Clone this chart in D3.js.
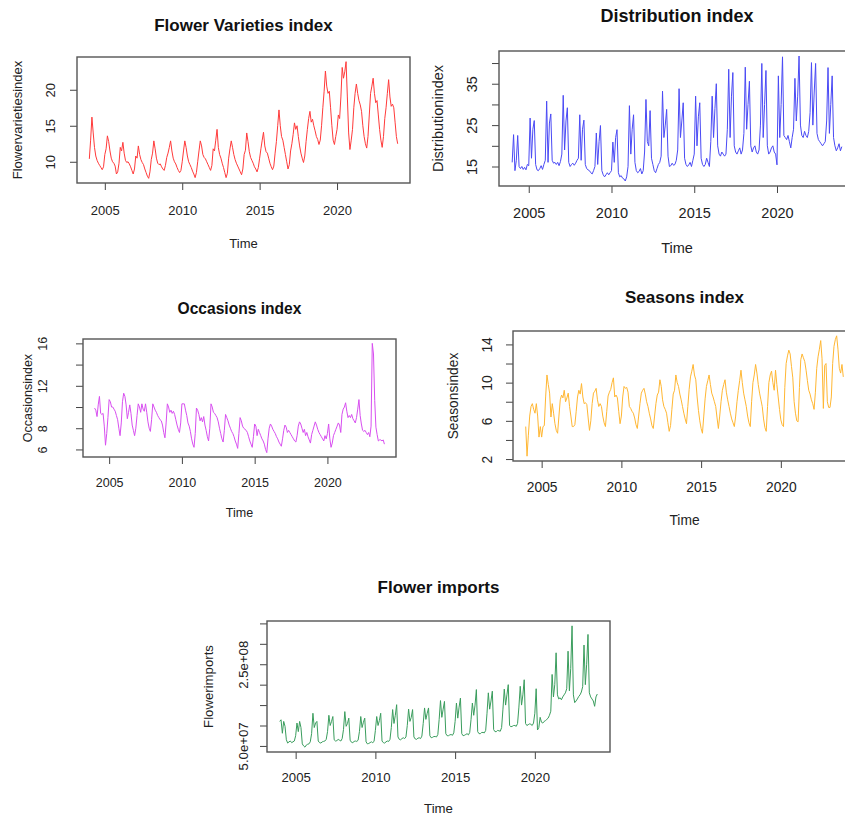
<!DOCTYPE html>
<html>
<head>
<meta charset="utf-8">
<script src="https://cdn.jsdelivr.net/npm/d3@7/dist/d3.min.js"></script>
<style>
  body { margin: 0; background: #fff; }
  svg { display: block; font-family: 'Liberation Sans', Arial, sans-serif; }
</style>
</head>
<body>
<div id="chart"></div>
<script>
// ---
// Data: monthly series, Jan 2004 - Dec 2023 (one row per year)
// ---
const startYear = 2004
const xTickYears = [2005, 2010, 2015, 2020]

const varietiesIndex = [
  10.4, 13.0, 16.2, 14.0, 12.0, 10.8, 10.2, 9.8, 9.5, 9.2, 8.9, 9.3,
  11.0, 11.8, 13.6, 12.8, 11.5, 10.5, 10.0, 9.8, 9.4, 8.3, 8.6, 9.8,
  12.0, 11.5, 12.7, 11.2, 10.2, 9.9, 10.0, 9.7, 9.3, 8.8, 8.3, 9.0,
  10.8, 10.5, 12.2, 11.0, 10.3, 9.9, 9.6, 9.0, 8.5, 8.0, 7.7, 8.6,
  10.3, 11.2, 12.9, 11.8, 10.5, 9.8, 9.6, 9.7, 9.3, 9.0, 8.8, 9.5,
  10.6, 11.2, 12.0, 12.9, 11.5, 10.5, 10.0, 9.7, 9.2, 8.8, 8.5, 8.8,
  10.0, 11.5, 12.9, 12.0, 10.8, 10.0, 9.6, 9.2, 8.7, 8.3, 7.8, 8.5,
  10.0, 11.5, 12.9, 12.2, 11.0, 10.6, 10.4, 10.0, 9.6, 9.2, 8.8, 9.5,
  11.8, 11.5, 13.0, 14.5, 12.0, 11.0, 10.5, 9.8, 9.2, 8.5, 7.8, 8.4,
  10.5, 11.8, 12.9, 12.0, 11.0, 10.3, 9.8, 9.4, 9.0, 8.6, 8.2, 9.0,
  11.0, 11.6, 14.0, 12.8, 11.4, 10.6, 10.2, 9.8, 9.3, 9.0, 8.6, 9.2,
  10.5, 11.8, 13.0, 14.1, 12.2, 11.4, 11.2, 10.5, 9.8, 9.3, 8.9, 9.4,
  11.2, 12.8, 15.0, 17.2, 15.0, 13.5, 13.0, 12.0, 11.0, 10.0, 9.0, 9.6,
  11.5, 12.5, 13.8, 15.4, 14.5, 15.0, 13.5, 12.2, 11.2, 10.5, 9.9, 10.8,
  12.8, 14.5, 16.0, 17.0, 15.5, 15.9, 15.0, 14.3, 13.5, 13.1, 12.4, 13.0,
  15.0, 17.5, 19.8, 22.6, 20.5, 19.5, 19.8, 17.5, 15.0, 13.0, 12.4, 13.5,
  14.5, 16.5, 16.0, 19.0, 23.1, 21.6, 22.5, 23.9, 19.0, 14.0, 11.7, 13.0,
  14.5, 17.5, 19.5, 20.8, 19.5, 18.5, 17.9, 17.0, 15.0, 13.5, 12.5, 11.9,
  13.5, 16.5, 19.5, 20.5, 21.6, 19.5, 18.2, 18.5, 16.5, 14.5, 13.0, 12.0,
  13.5, 16.0, 17.5, 19.5, 21.4, 19.0, 17.7, 18.0, 17.5, 15.5, 13.5, 12.5
]

const distributionIndex = [
  16.0, 22.7, 14.0, 16.5, 22.5, 15.0, 14.5, 15.0, 14.3, 14.8, 14.2, 15.5,
  15.2, 26.7, 17.0, 24.0, 26.1, 15.5, 14.2, 14.0, 14.5, 15.2, 14.3, 15.5,
  16.5, 30.8, 16.0, 25.5, 27.7, 16.5, 15.8, 16.0, 15.5, 16.0, 15.2, 16.2,
  18.0, 32.2, 19.0, 26.0, 29.2, 16.0, 15.0, 15.5, 15.8, 15.3, 15.8, 16.5,
  17.0, 27.5, 16.5, 24.0, 26.2, 15.5, 14.5, 14.2, 14.0, 13.5, 13.2, 14.0,
  15.0, 23.1, 15.5, 21.0, 24.9, 14.0, 13.0, 12.5, 13.0, 13.5, 13.0, 13.5,
  14.0, 20.9, 16.0, 22.0, 23.9, 13.5, 12.5, 12.8, 12.2, 12.0, 11.5, 12.5,
  15.0, 29.7, 18.0, 24.0, 27.5, 16.0, 14.0, 13.5, 13.8, 14.5, 13.2, 14.0,
  18.5, 31.2, 21.0, 20.0, 28.5, 17.0, 15.5, 14.0, 13.5, 14.5, 15.5, 16.0,
  17.5, 33.2, 22.0, 25.0, 28.8, 17.5, 15.0, 15.2, 15.8, 15.3, 15.5, 16.5,
  19.0, 33.8, 22.0, 26.0, 30.4, 17.0, 15.5, 15.0, 15.4, 16.0, 15.0, 16.5,
  18.0, 32.0, 20.0, 27.0, 30.4, 17.0, 15.5, 15.0, 15.5, 17.0, 16.0, 15.0,
  21.0, 32.0, 22.0, 29.0, 35.0, 20.0, 18.0, 17.5, 18.5, 18.0, 17.5, 18.0,
  24.0, 38.5, 22.0, 32.0, 37.7, 20.0, 18.5, 18.0, 18.8, 19.5, 18.0, 19.0,
  23.0, 39.0, 24.0, 30.0, 35.6, 20.0, 18.5, 19.5, 20.0, 18.5, 18.0, 19.0,
  25.0, 39.9, 22.0, 30.0, 38.2, 20.0, 18.0, 18.5, 19.5, 20.0, 18.5, 18.0,
  15.4, 36.9, 22.0, 30.0, 41.5, 22.5, 22.0, 21.5, 22.5, 21.0, 19.5, 22.0,
  24.0, 36.3, 26.0, 32.0, 41.7, 25.0, 22.5, 22.0, 23.5, 22.5, 22.0, 23.5,
  28.0, 40.1, 25.0, 33.0, 39.9, 23.0, 21.5, 21.0, 20.5, 20.0, 20.5, 21.0,
  26.0, 38.9, 23.0, 30.0, 36.9, 22.0, 20.0, 18.8, 19.5, 20.5, 18.8, 19.8
]

const occasionsIndex = [
  9.9, 9.7, 9.1, 10.2, 11.0, 9.4, 9.3, 9.4, 8.2, 6.4, 7.5, 9.0,
  10.7, 10.5, 10.0, 10.0, 9.8, 9.6, 9.2, 8.8, 8.0, 7.3, 8.5, 10.5,
  11.3, 11.0, 10.2, 8.9, 9.5, 10.2, 9.4, 8.3, 7.8, 7.3, 8.0, 9.2,
  10.3, 10.0, 9.5, 10.3, 9.8, 9.6, 10.3, 9.5, 8.6, 8.0, 7.7, 8.8,
  10.3, 10.0, 9.7, 9.5, 9.2, 9.0, 8.8, 8.7, 8.3, 7.6, 7.1, 8.5,
  10.3, 10.0, 9.5, 9.7, 9.4, 9.6, 9.3, 8.8, 8.3, 7.9, 7.6, 8.5,
  10.3, 10.3, 10.3, 9.7, 9.2, 8.5, 8.2, 7.7, 7.0, 6.5, 6.2, 7.5,
  9.9, 9.7, 9.3, 8.7, 9.0, 8.6, 9.1, 8.3, 7.8, 7.2, 6.8, 8.0,
  10.3, 10.0, 9.5, 9.4, 9.2, 9.0, 8.6, 8.0, 7.5, 7.0, 6.7, 7.8,
  9.3, 9.0, 8.7, 8.3, 8.0, 7.7, 7.5, 7.2, 6.8, 6.5, 6.1, 7.5,
  9.0, 8.7, 8.2, 8.0, 7.9, 7.8, 7.6, 7.2, 6.8, 6.5, 6.2, 7.2,
  8.4, 8.2, 7.3, 7.9, 7.6, 7.3, 7.0, 6.8, 6.5, 6.0, 5.7, 7.0,
  8.0, 8.4, 8.2, 7.9, 7.7, 7.5, 7.2, 7.0, 6.7, 6.5, 6.3, 7.0,
  7.8, 8.3, 8.1, 7.6, 7.8, 7.6, 7.4, 7.2, 7.0, 6.8, 6.7, 7.3,
  8.2, 8.6, 8.4, 8.0, 7.6, 7.9, 7.3, 7.6, 7.2, 6.9, 6.6, 7.4,
  7.8, 8.2, 8.6, 8.3, 7.9, 7.6, 7.4, 7.2, 7.0, 6.8, 7.3, 7.0,
  7.5, 8.4, 7.0, 6.2, 6.6, 7.3, 7.6, 7.9, 8.2, 8.5, 8.3, 7.6,
  9.3, 9.8, 10.0, 10.4, 9.6, 9.0, 9.2, 9.0, 9.3, 8.9, 8.7, 8.5,
  9.0, 9.8, 10.7, 9.2, 8.4, 7.8, 7.7, 7.8, 7.6, 7.4, 7.6, 7.2,
  8.2, 16.0, 15.0, 10.6, 8.1, 7.4, 6.8, 6.9, 6.9, 6.8, 6.9, 6.5
]

const seasonsIndex = [
  5.4, 2.3, 4.5, 6.5, 7.5, 7.8, 7.2, 6.8, 7.8, 6.5, 4.3, 5.4,
  4.3, 5.4, 5.5, 8.5, 10.8, 9.8, 8.9, 6.4, 7.8, 6.8, 5.7, 5.0,
  4.7, 6.5, 8.2, 8.7, 8.4, 9.2, 8.0, 8.4, 8.9, 7.5, 6.5, 5.4,
  5.4, 5.6, 7.0, 8.5, 9.2, 8.8, 9.9, 8.5, 7.8, 7.9, 7.7, 6.3,
  5.0, 6.0, 7.8, 8.9, 9.1, 9.4, 8.2, 7.5, 7.8, 7.5, 6.5, 5.8,
  5.4, 7.0, 8.6, 9.0, 9.3, 10.0, 10.5, 8.5, 8.7, 8.4, 7.0, 5.7,
  6.5, 8.5, 9.6, 9.4, 9.5, 9.0, 7.5, 7.3, 7.0, 6.8, 6.3, 5.6,
  5.2, 6.5, 7.8, 8.9, 9.2, 9.4, 8.8, 8.0, 7.5, 6.8, 6.2, 5.5,
  5.2, 6.5, 7.8, 8.7, 9.0, 10.3, 9.6, 8.2, 7.5, 7.2, 6.8, 5.8,
  4.9, 5.5, 7.2, 8.8, 9.2, 10.8, 10.0, 9.6, 8.8, 8.2, 7.5, 6.8,
  6.2, 5.7, 7.5, 9.3, 10.6, 11.2, 11.9, 10.8, 10.3, 8.5, 7.1, 6.0,
  5.2, 4.7, 6.5, 8.3, 9.6, 10.2, 10.8, 9.8, 8.9, 8.5, 8.0, 7.5,
  6.3, 5.2, 6.5, 8.0, 9.2, 9.8, 10.3, 9.0, 8.2, 7.5, 6.8, 6.2,
  5.8, 5.4, 6.5, 8.0, 9.2, 10.2, 11.3, 10.0, 8.9, 8.2, 7.5, 6.5,
  5.8, 5.4, 8.0, 10.0, 10.8, 11.9, 11.0, 9.8, 8.9, 8.2, 7.5, 6.2,
  5.3, 4.9, 7.5, 10.0, 10.8, 11.2, 10.0, 9.2, 11.3, 9.8, 8.5, 7.2,
  6.1, 5.6, 5.4, 9.5, 12.0, 12.8, 13.4, 13.0, 11.7, 10.5, 8.0, 6.8,
  6.0, 5.9, 9.5, 12.4, 13.0, 12.6, 12.2, 11.3, 10.2, 9.2, 8.8, 8.2,
  7.8, 7.2, 9.0, 11.5, 12.7, 13.5, 14.4, 12.5, 7.3, 11.8, 12.0, 8.0,
  7.4, 7.4, 8.5, 12.0, 13.8, 14.5, 14.9, 13.5, 11.5, 11.0, 11.9, 10.6
]

// imports in millions
const flowerImports = [
  110, 114, 81, 110, 98, 65, 57, 60, 62, 58, 60, 62,
  75, 106, 85, 110, 95, 55, 50, 47, 52, 54, 55, 60,
  80, 130, 95, 106, 110, 62, 58, 57, 60, 61, 62, 66,
  85, 125, 100, 110, 122, 65, 62, 63, 66, 64, 62, 68,
  90, 134, 98, 105, 118, 64, 59, 58, 61, 62, 61, 64,
  85, 122, 95, 108, 118, 60, 55, 56, 58, 60, 58, 61,
  88, 122, 100, 112, 130, 62, 58, 57, 60, 62, 61, 66,
  95, 139, 105, 125, 151, 72, 66, 65, 68, 70, 68, 72,
  100, 140, 110, 120, 139, 72, 67, 66, 69, 70, 68, 74,
  105, 143, 115, 130, 143, 75, 70, 71, 73, 73, 72, 78,
  115, 161, 120, 140, 159, 80, 75, 75, 77, 78, 76, 82,
  110, 155, 118, 145, 167, 80, 75, 76, 78, 80, 77, 83,
  115, 155, 125, 150, 188, 85, 80, 80, 83, 83, 82, 88,
  130, 180, 140, 160, 184, 90, 85, 85, 88, 87, 86, 95,
  140, 189, 150, 175, 200, 100, 97, 98, 100, 100, 98, 105,
  145, 196, 150, 175, 212, 105, 100, 102, 104, 103, 100, 106,
  130, 190, 89, 95, 120, 108, 106, 110, 112, 115, 118, 125,
  135, 225, 170, 200, 278, 175, 165, 168, 163, 170, 175, 180,
  190, 282, 185, 240, 344, 175, 156, 160, 165, 171, 175, 182,
  195, 297, 200, 250, 323, 180, 170, 165, 160, 147, 170, 177
]

// y ticks, and which of them carry a label
const varietiesTicks = [10, 15, 20]
const varietiesLabels = [10, 15, 20]
const distributionTicks = [15, 20, 25, 30, 35, 40]
const distributionLabels = [15, 25, 35]
const occasionsTicks = [6, 8, 10, 12, 14, 16]
const occasionsLabels = [6, 8, 12, 16]
const seasonsTicks = [2, 4, 6, 8, 10, 12, 14]
const seasonsLabels = [2, 6, 10, 14]
const importsTicks = [50, 100, 150, 200, 250, 300, 350]
const importsLabels = [50, 250]

// R style scientific label, e.g. 5.0e+07
const sciLabel = v => (v * 1e6).toExponential(1).replace(/e([+-])(\d)$/, (m, s, d) => 'e' + s + '0' + d)

// ---
// Panels
// ---
const panels = [
  {
    title: 'Flower Varieties index', ylab: 'Flowervarietiesindex', values: varietiesIndex, color: '#ff3a3a',
    yTicks: varietiesTicks, yLabels: varietiesLabels, fmt: String,
    box: {left: 77, right: 410, top: 57, bottom: 183}, fs: 13, tfs: 17,
    off: {ytick: 27, ylab: 60, xtick: 27, xlab: 60, title: 32}
  },
  {
    title: 'Distribution index', ylab: 'Distributionindex', values: distributionIndex, color: '#4a4af5',
    yTicks: distributionTicks, yLabels: distributionLabels, fmt: String,
    box: {left: 499, right: 855, top: 51, bottom: 186}, fs: 14.5, tfs: 18,
    off: {ytick: 27, ylab: 61, xtick: 27, xlab: 62, title: 35}
  },
  {
    title: 'Occasions index', ylab: 'Occasionsindex', values: occasionsIndex, color: '#d84ff0',
    yTicks: occasionsTicks, yLabels: occasionsLabels, fmt: String,
    box: {left: 83, right: 396, top: 339, bottom: 457}, fs: 12.5, tfs: 15.6,
    off: {ytick: 40, ylab: 55, xtick: 26, xlab: 56, title: 30}
  },
  {
    title: 'Seasons index', ylab: 'Seasonsindex', values: seasonsIndex, color: '#ffb733',
    yTicks: seasonsTicks, yLabels: seasonsLabels, fmt: String,
    box: {left: 513, right: 856, top: 331, bottom: 461}, fs: 13.8, tfs: 17,
    off: {ytick: 26, ylab: 60, xtick: 26, xlab: 59, title: 34}
  },
  {
    title: 'Flower imports', ylab: 'Flowerimports', values: flowerImports, color: '#3a9d5d',
    yTicks: importsTicks, yLabels: importsLabels, fmt: sciLabel,
    box: {left: 267, right: 610, top: 621, bottom: 752}, fs: 13.2, tfs: 17,
    off: {ytick: 24, ylab: 59, xtick: 25, xlab: 56, title: 34}
  }
]

const svg = d3.select('#chart').append('svg')
  .attr('width', 845)
  .attr('height', 816)

svg.append('rect')
  .attr('width', 845)
  .attr('height', 816)
  .attr('fill', '#fff')

function drawPanel (p) {
  const b = p.box
  const times = p.values.map((_, i) => startYear + i / 12)
  const tExt = d3.extent(times)
  const vExt = d3.extent(p.values)
  // R pads the data range by 4% on each side
  const tPad = (tExt[1] - tExt[0]) * 0.04
  const vPad = (vExt[1] - vExt[0]) * 0.04

  // Scale
  const x = d3.scaleLinear()
    .domain([tExt[0] - tPad, tExt[1] + tPad])
    .range([b.left, b.right])

  const y = d3.scaleLinear()
    .domain([vExt[0] - vPad, vExt[1] + vPad])
    .range([b.bottom, b.top])

  const g = svg.append('g')

  // Series
  const line = d3.line()
    .x((d, i) => x(times[i]))
    .y(d => y(d))

  g.append('path')
    .datum(p.values)
    .attr('fill', 'none')
    .attr('stroke', p.color)
    .attr('stroke-width', 1)
    .attr('stroke-linejoin', 'round')
    .attr('d', line)

  // Axes
  const xAxis = d3.axisBottom(x)
    .tickValues(xTickYears)
    .tickSize(7)
    .tickFormat(d3.format('d'))

  const yAxis = d3.axisLeft(y)
    .tickValues(p.yTicks)
    .tickSize(7)
    .tickFormat(v => p.yLabels.includes(v) ? p.fmt(v) : '')

  g.append('g')
    .attr('transform', `translate(0, ${b.bottom})`)
    .call(xAxis)
    .call(a => a.select('.domain').remove())
    .call(a => a.selectAll('.tick line').attr('stroke', '#444'))
    .call(a => a.selectAll('.tick text')
      .attr('y', p.off.xtick)
      .attr('dy', '0.35em')
      .attr('fill', '#222')
      .style('font-size', p.fs + 'px')
      .style('font-family', 'Liberation Sans, Arial, sans-serif'))

  g.append('g')
    .attr('transform', `translate(${b.left}, 0)`)
    .call(yAxis)
    .call(a => a.select('.domain').remove())
    .call(a => a.selectAll('.tick line').attr('stroke', '#444'))
    .call(a => a.selectAll('.tick text')
      .attr('transform', 'rotate(-90)')
      .attr('x', 0)
      .attr('y', -p.off.ytick)
      .attr('dy', '0.35em')
      .attr('text-anchor', 'middle')
      .attr('fill', '#222')
      .style('font-size', p.fs + 'px')
      .style('font-family', 'Liberation Sans, Arial, sans-serif'))

  // Box
  g.append('rect')
    .attr('x', b.left)
    .attr('y', b.top)
    .attr('width', b.right - b.left)
    .attr('height', b.bottom - b.top)
    .attr('fill', 'none')
    .attr('stroke', '#555')
    .attr('stroke-width', 1.4)

  // Labels
  const cx = (b.left + b.right) / 2
  const cy = (b.top + b.bottom) / 2

  g.append('text')
    .attr('x', cx)
    .attr('y', b.top - p.off.title)
    .attr('dy', '0.35em')
    .attr('text-anchor', 'middle')
    .attr('font-weight', 'bold')
    .attr('font-size', p.tfs)
    .attr('fill', '#111')
    .text(p.title)

  g.append('text')
    .attr('x', cx)
    .attr('y', b.bottom + p.off.xlab)
    .attr('dy', '0.35em')
    .attr('text-anchor', 'middle')
    .attr('font-size', p.fs)
    .attr('fill', '#222')
    .text('Time')

  g.append('text')
    .attr('transform', `translate(${b.left - p.off.ylab}, ${cy}) rotate(-90)`)
    .attr('dy', '0.35em')
    .attr('text-anchor', 'middle')
    .attr('font-size', p.fs)
    .attr('fill', '#222')
    .text(p.ylab)
}

panels.forEach(drawPanel)
</script>
</body>
</html>
